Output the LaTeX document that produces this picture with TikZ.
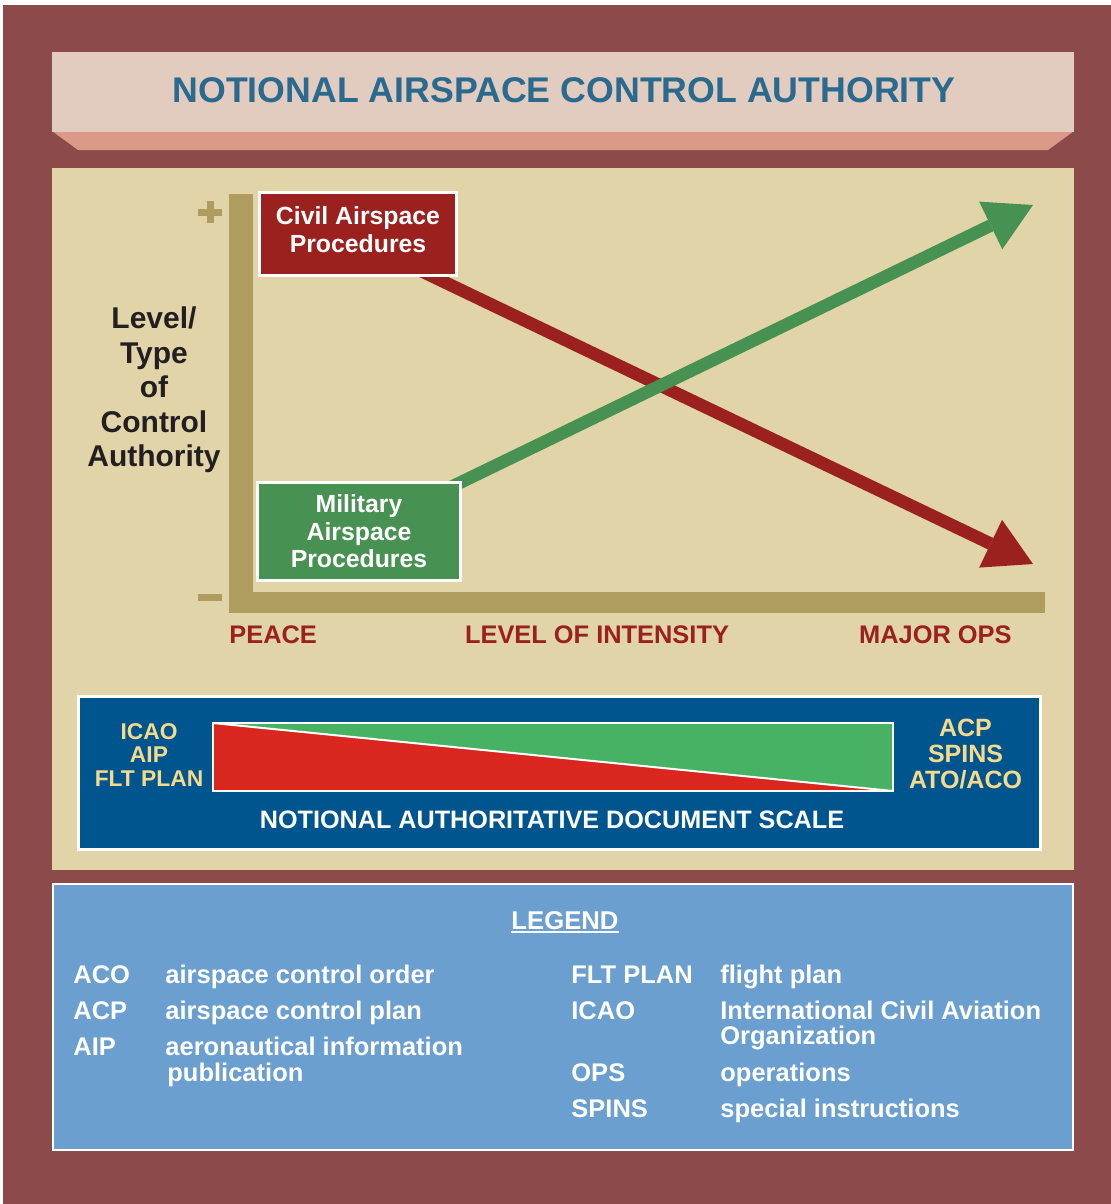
\documentclass[tikz,border=0pt]{standalone}
\usepackage{fontspec}
\setmainfont{Liberation Sans}
\usetikzlibrary{arrows.meta}
\definecolor{maroonbg}{HTML}{8C4A4A}
\definecolor{titlepink}{HTML}{E2CBBF}
\definecolor{bevelpink}{HTML}{DB9987}
\definecolor{titleblue}{HTML}{2A6A8F}
\definecolor{tanpanel}{HTML}{E0D4A8}
\definecolor{axistan}{HTML}{AF9D5F}
\definecolor{civred}{HTML}{9B211E}
\definecolor{milgreen}{HTML}{479253}
\definecolor{docblue}{HTML}{00558F}
\definecolor{docyellow}{HTML}{F6DA8C}
\definecolor{stripred}{HTML}{D9261E}
\definecolor{stripgreen}{HTML}{47B264}
\definecolor{legendblue}{HTML}{6A9FCF}
\definecolor{darktext}{HTML}{231F20}
\pgfdeclarelayer{front}
\pgfsetlayers{main,front}
\tikzset{
  txt/.style={inner sep=0pt, font=\bfseries},
  procbox/.style={draw=white, line width=1.5pt, text=white, align=center, inner sep=0pt,
    font=\bfseries\fontsize{12.4pt}{13.6pt}\selectfont},
  axislabel/.style={txt, text=civred, anchor=base, font=\bfseries\fontsize{12.7pt}{14pt}\selectfont},
  legtxt/.style={txt, text=white, anchor=base west, font=\bfseries\fontsize{12.75pt}{14pt}\selectfont},
  arrowline/.style={line width=6.3pt, shorten <=-8pt,
    -{Triangle[length=23.5pt, width=26.5pt, line width=0pt]}},
}
\begin{document}
\begin{tikzpicture}[x=0.5pt, y=-0.5pt]
\useasboundingbox (0,0) rectangle (1111,1204);
\fill[white] (0,0) rectangle (1111,1204);
\fill[maroonbg] (3,5) rectangle (1111,1204);
% title
\fill[bevelpink] (52,131) -- (1074,131) -- (1048,150) -- (78,150) -- cycle;
\node[fill=titlepink, minimum width=511pt, minimum height=40pt, inner sep=0pt] (titlebox) at (563,92) {};
\node[txt, anchor=base, text=titleblue, font=\bfseries\fontsize{17.85pt}{20pt}\selectfont] (title) at (564,103) {NOTIONAL AIRSPACE CONTROL AUTHORITY};
% chart panel
\fill[tanpanel] (52,168) rectangle (1074,870);
\fill[axistan] (229,194) rectangle (253,613);
\fill[axistan] (229,592) rectangle (1045,613);
\fill[axistan] (198,209) rectangle (222,216);
\fill[axistan] (206.5,201) rectangle (213.5,223);
\fill[axistan] (198,594) rectangle (222,601);
\begin{pgfonlayer}{front}
\node[procbox, fill=civred, minimum width=98.5pt, minimum height=41.5pt] (civil) at (358,234)
  {Civil Airspace\\Procedures\rule[-4.5pt]{0pt}{0pt}};
\node[procbox, fill=milgreen, minimum width=101.5pt, minimum height=49pt,
  font=\bfseries\fontsize{12.4pt}{13.75pt}\selectfont] (military) at (359,531.5)
  {Military\\Airspace\\Procedures};
\end{pgfonlayer}
\coordinate (redtip) at (1033,564);
\coordinate (greentip) at (1033,205);
\draw[arrowline, civred] ([xshift=-7pt]civil.center) -- (redtip);
\draw[arrowline, milgreen] (military) -- (greentip);
\node[txt, text=darktext, align=center, font=\bfseries\fontsize{15pt}{17.25pt}\selectfont] (ylabel) at (154,390)
  {Level/\\Type\\of\\Control\\Authority};
\node[axislabel, anchor=base west] (peace) at (229,643) {PEACE};
\node[axislabel] (intensity) at (597,643) {LEVEL OF INTENSITY};
\node[axislabel, anchor=base east] (majorops) at (1012,643) {MAJOR OPS};
% document scale
\node[draw=white, line width=1.5pt, fill=docblue, minimum width=481pt, minimum height=76.5pt, inner sep=0pt] (docbox) at (559.5,773) {};
\node[draw=white, line width=1pt, fill=stripgreen, minimum width=340pt, minimum height=34pt, inner sep=0pt,
  path picture={
    \fill[stripred] (path picture bounding box.north west) -- (path picture bounding box.south west)
      -- (path picture bounding box.south east) -- cycle;
    \draw[white, line width=1pt] (path picture bounding box.north west) -- (path picture bounding box.south east);
  }] (strip) at (553,757) {};
\node[txt, text=docyellow, align=center, font=\bfseries\fontsize{11.4pt}{11.6pt}\selectfont] (docleft) at (149,755)
  {ICAO\\AIP\\FLT PLAN};
\node[txt, text=docyellow, align=center, font=\bfseries\fontsize{12.5pt}{13pt}\selectfont] (docright) at (965.5,754)
  {ACP\\SPINS\\ATO/ACO};
\node[txt, anchor=base, text=white, font=\bfseries\fontsize{12.6pt}{14pt}\selectfont] (doccaption) at (552,828)
  {NOTIONAL AUTHORITATIVE DOCUMENT SCALE};
% legend
\node[draw=white, line width=1pt, fill=legendblue, minimum width=510pt, minimum height=133pt, inner sep=0pt] (legendbox) at (563,1017) {};
\node[legtxt, anchor=base, font=\bfseries\fontsize{12.85pt}{14pt}\selectfont] (legendtitle) at (565,929) {LEGEND};
\draw[white, line width=1pt] ([yshift=-1.6pt]legendtitle.base west) -- ([yshift=-1.6pt]legendtitle.base east);
\node[legtxt] (la1) at (73,983) {ACO};
\node[legtxt] (lb1) at (165,983) {airspace control order};
\node[legtxt] (la2) at (73,1019) {ACP};
\node[legtxt] (lb2) at (165,1019) {airspace control plan};
\node[legtxt] (la3) at (73,1055) {AIP};
\node[legtxt] (lb3) at (165,1055) {aeronautical information};
\node[legtxt] (lb3b) at (167,1081) {publication};
\node[legtxt] (ra1) at (571,983) {FLT PLAN};
\node[legtxt] (rb1) at (720,983) {flight plan};
\node[legtxt] (ra2) at (571,1019) {ICAO};
\node[legtxt] (rb2) at (720,1019) {International Civil Aviation};
\node[legtxt] (rb2b) at (720,1044) {Organization};
\node[legtxt] (ra3) at (571,1081) {OPS};
\node[legtxt] (rb3) at (720,1081) {operations};
\node[legtxt] (ra4) at (571,1117) {SPINS};
\node[legtxt] (rb4) at (720,1117) {special instructions};
\end{tikzpicture}
\end{document}
